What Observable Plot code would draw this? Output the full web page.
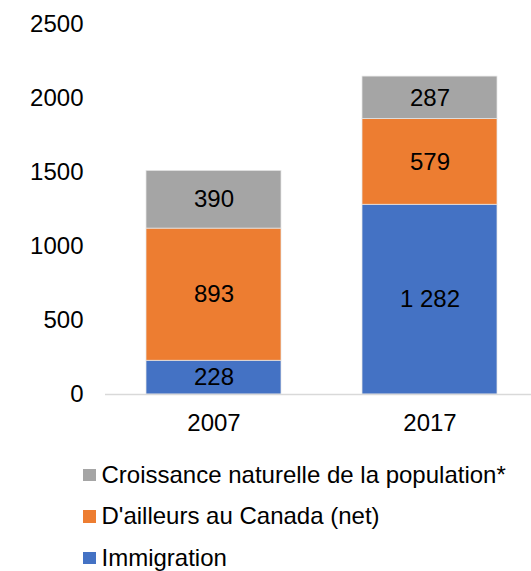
<!DOCTYPE html>
<html>
<head>
<meta charset="utf-8">
<script src="https://cdn.jsdelivr.net/npm/d3@7"></script>
<script src="https://cdn.jsdelivr.net/npm/@observablehq/plot@0.6"></script>
<style>
  body { margin: 0; background: #fff; font-family: "Liberation Sans", Arial, sans-serif; }
  #chart svg { display: block; }
  .legend { position: relative; margin-top: 14px; }
  .legend .row { display: flex; align-items: center; height: 41.5px; padding-left: 83px; font-size: 24px; color: #000; }
  .legend .sw { width: 12.5px; height: 12.5px; margin-right: 6px; flex: none; }
</style>
</head>
<body>
<div id="chart"></div>
<script>
const years = ["2007", "2017"];
const seriesNames = ["Immigration", "D'ailleurs au Canada (net)", "Croissance naturelle de la population*"];
const immigration = [228, 1282];
const ailleurs = [893, 579];
const croissance = [390, 287];
const seriesColors = ["#4472C4", "#ED7D31", "#A5A5A5"];
const yTicks = [0, 500, 1000, 1500, 2000, 2500];

const seriesValues = [immigration, ailleurs, croissance];
const data = [];
seriesNames.forEach((s, i) => {
  years.forEach((yr, j) => data.push({year: yr, series: s, value: seriesValues[i][j]}));
});

const fr = d3.formatLocale({decimal: ",", thousands: "\u00a0", grouping: [3], currency: ["", " €"]});
const fmt = fr.format(",d");

const plot = Plot.plot({
  width: 531,
  height: 440,
  marginTop: 24,
  marginBottom: 46,
  marginLeft: 105,
  marginRight: 0,
  style: {fontFamily: "'Liberation Sans', Arial, sans-serif", fontSize: "24px", color: "#000", background: "#fff"},
  x: {type: "band", domain: years, range: [105, 537], paddingInner: 0.377, paddingOuter: 0.1885, align: 0.5, label: null},
  y: {domain: [0, 2500], label: null},
  color: {domain: seriesNames, range: seriesColors},
  marks: [
    Plot.axisY({ticks: yTicks, tickSize: 0, tickPadding: 22, tickFormat: d => String(d), label: null}),
    Plot.axisX({tickSize: 0, tickPadding: 19, label: null}),
    Plot.barY(data, {x: "year", y: "value", fill: "series", stroke: "#e6e6e6", strokeWidth: 0.75}),
    Plot.ruleY([0], {stroke: "#d9d9d9", strokeWidth: 1.3}),
    Plot.text(data, Plot.stackY({x: "year", y: "value", z: "series", text: d => fmt(d.value), fill: "#000", fontSize: 24}))
  ]
});
document.getElementById("chart").appendChild(plot);

const legend = document.createElement("div");
legend.className = "legend";
[...seriesNames].reverse().forEach((s) => {
  const row = document.createElement("div");
  row.className = "row";
  const sw = document.createElement("span");
  sw.className = "sw";
  sw.style.background = seriesColors[seriesNames.indexOf(s)];
  const t = document.createElement("span");
  t.textContent = s;
  row.appendChild(sw);
  row.appendChild(t);
  legend.appendChild(row);
});
document.getElementById("chart").appendChild(legend);
</script>
</body>
</html>
